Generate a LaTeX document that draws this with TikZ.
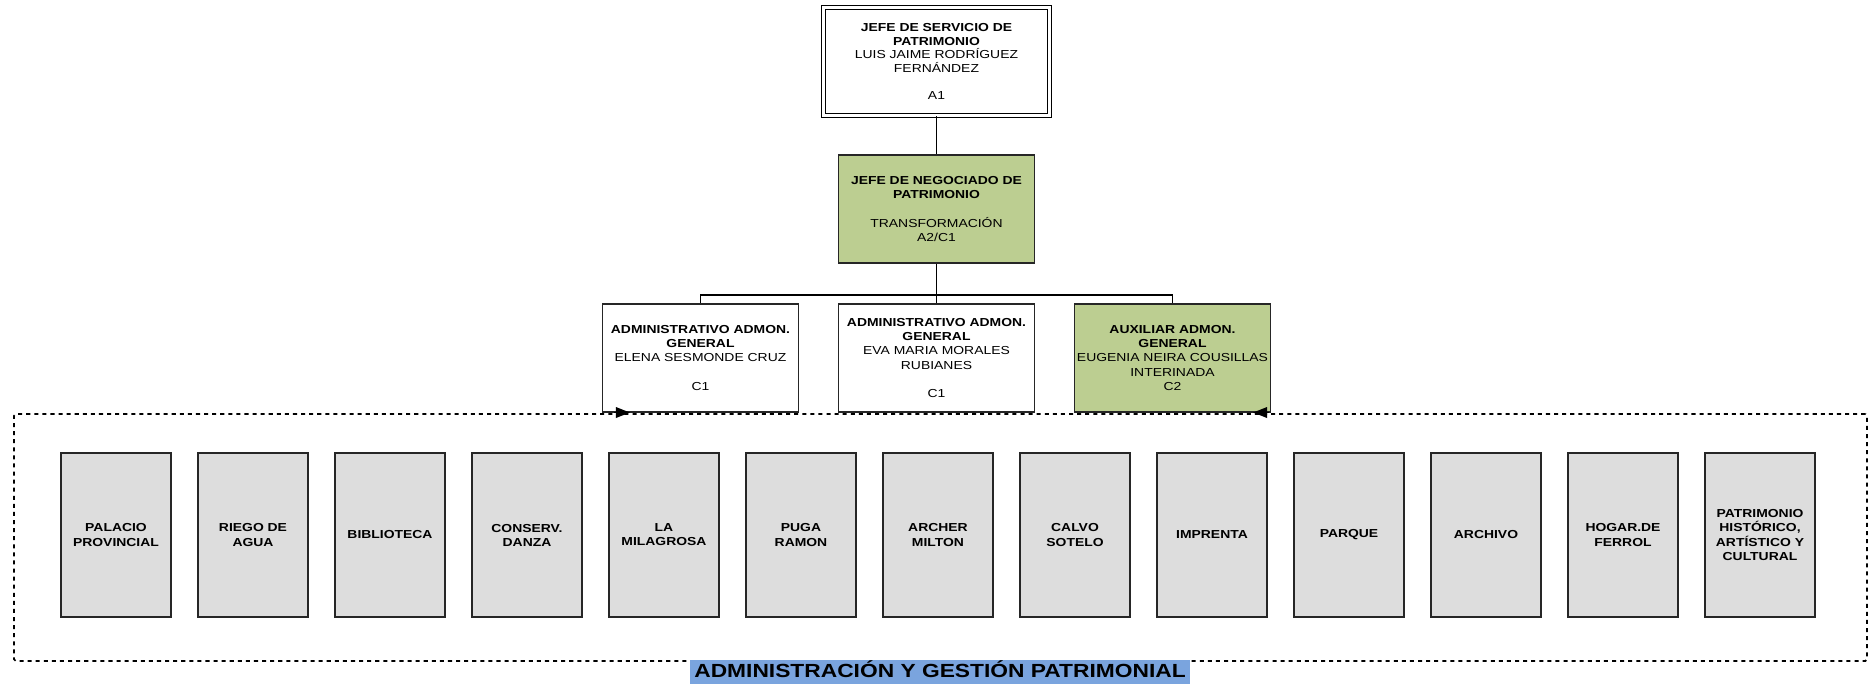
\documentclass[tikz,border=0pt]{standalone}
\usepackage{fontspec}
\setmainfont{Liberation Sans}[FakeStretch=1.2]
\usepackage{tikz}
\usetikzlibrary{arrows.meta}

\definecolor{verdeorg}{RGB}{188,206,145}
\definecolor{grisunidad}{RGB}{221,221,221}
\definecolor{azultitulo}{RGB}{122,164,222}

\tikzset{
	jefe/.style={draw=black, double, double distance=1.7pt, line width=0.6pt, minimum width=4.52cm, minimum height=2.16cm, inner sep=1pt, align=center, font=\fontsize{6.6}{7.7}\selectfont},
	cargo/.style={draw=black!85, line width=0.6pt, minimum width=3.92cm, minimum height=2.16cm, inner sep=1pt, align=center, font=\fontsize{6.6}{8}\selectfont},
	unidad/.style={draw=black!85, fill=grisunidad, line width=1.2pt, minimum width=2.2cm, minimum height=3.28cm, inner sep=1pt, align=center, font=\bfseries\fontsize{6.6}{8}\selectfont},
	conector/.style={draw=black, line width=0.6pt},
	discontinuo/.style={line width=1pt, dash pattern=on 2.3pt off 2.3pt},
}

\begin{document}
\begin{tikzpicture}

	\useasboundingbox (0,0) rectangle (37.52,-13.68);

	\node[jefe] (jsp) at (18.73, -1.23) {\textbf{JEFE DE SERVICIO DE}\\\textbf{PATRIMONIO}\\LUIS JAIME RODRÍGUEZ\\FERNÁNDEZ\\[7.7pt]A1};
	\node[cargo, fill=verdeorg] (jnp) at (18.73, -4.18) {\textbf{JEFE DE NEGOCIADO DE}\\\textbf{PATRIMONIO}\\[8pt]TRANSFORMACIÓN\\A2/C1};

	\node[cargo] (adm1) at (14.01, -7.16) {\textbf{ADMINISTRATIVO ADMON.}\\\textbf{GENERAL}\\ELENA SESMONDE CRUZ\\[8pt]C1};
	\node[cargo] (adm2) at (18.73, -7.16) {\textbf{ADMINISTRATIVO ADMON.}\\\textbf{GENERAL}\\EVA MARIA MORALES\\RUBIANES\\[8pt]C1};
	\node[cargo, fill=verdeorg] (aux) at (23.45, -7.16) {\textbf{AUXILIAR ADMON.}\\\textbf{GENERAL}\\EUGENIA NEIRA COUSILLAS\\INTERINADA\\C2};

	\node[discontinuo, draw=black, rounded corners=1pt, minimum width=37.06cm, minimum height=4.94cm] (unidades) at (18.81, -10.75) {};

	\node[unidad] (palacio)    at (2.32, -10.7)  {PALACIO\\PROVINCIAL};
	\node[unidad] (riego)      at (5.06, -10.7)  {RIEGO DE\\AGUA};
	\node[unidad] (biblioteca) at (7.80, -10.7)  {BIBLIOTECA};
	\node[unidad] (conserv)    at (10.54, -10.7) {CONSERV.\\DANZA};
	\node[unidad] (milagrosa)  at (13.28, -10.7) {LA\\MILAGROSA};
	\node[unidad] (puga)       at (16.02, -10.7) {PUGA\\RAMON};
	\node[unidad] (archer)     at (18.76, -10.7) {ARCHER\\MILTON};
	\node[unidad] (calvo)      at (21.50, -10.7) {CALVO\\SOTELO};
	\node[unidad] (imprenta)   at (24.24, -10.7) {IMPRENTA};
	\node[unidad] (parque)     at (26.98, -10.7) {PARQUE};
	\node[unidad] (archivo)    at (29.72, -10.7) {ARCHIVO};
	\node[unidad] (hogar)      at (32.46, -10.7) {HOGAR.DE\\FERROL};
	\node[unidad] (historico)  at (35.20, -10.7) {PATRIMONIO\\HISTÓRICO,\\ARTÍSTICO Y\\CULTURAL};

	\node[fill=azultitulo, anchor=base, inner xsep=2.3pt, inner ysep=0pt, text depth=4pt, font=\bfseries\fontsize{10.8}{12}\selectfont] (titulo) at (18.8, -13.54) {ADMINISTRACIÓN Y GESTIÓN PATRIMONIAL};

	\coordinate (bus) at (18.73, -5.9);
	\coordinate (llegada1) at ([xshift=0.56cm]adm1.south west);
	\coordinate (llegada2) at ([xshift=-0.36cm]aux.south east);

	\path[conector] (jsp) edge (jnp);
	\path[conector] (jnp) edge (bus);
	\draw[conector] (bus) -| (adm1);
	\draw[conector] (bus) -| (aux);
	\path[conector] (bus) edge (adm2);

	\draw[discontinuo, -{Triangle[length=8pt, width=6pt]}] ([xshift=-0.32cm]llegada1) -- (llegada1);
	\draw[discontinuo, -{Triangle[length=8pt, width=6pt]}] ([xshift=0.32cm]llegada2) -- (llegada2);

\end{tikzpicture}
\end{document}
